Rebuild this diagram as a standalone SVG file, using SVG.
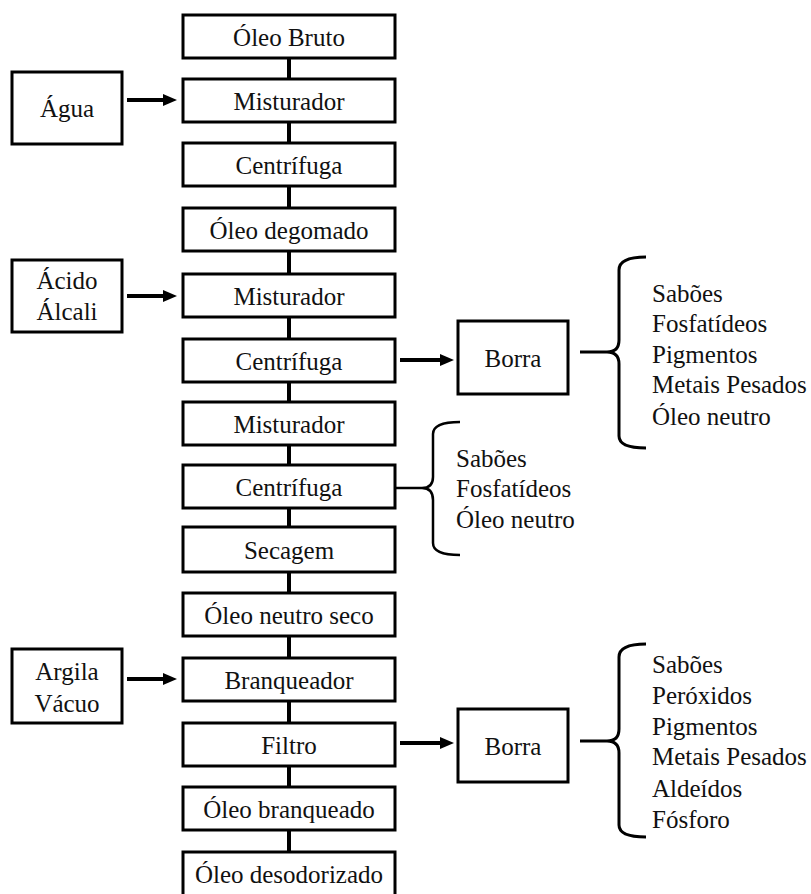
<svg xmlns="http://www.w3.org/2000/svg" width="811" height="894" viewBox="0 0 811 894">
<defs>
<style>
.box{fill:#fff;stroke:#000;stroke-width:3}
.t{font-family:"Liberation Serif","Times New Roman",serif;font-size:25px;fill:#111}
.c{text-anchor:middle}
.conn{stroke:#000;stroke-width:4;fill:none}
.arr{stroke:#000;stroke-width:4;fill:none;marker-end:url(#ah)}
.brace{stroke:#000;stroke-width:3;fill:none}
</style>
<marker id="ah" markerUnits="userSpaceOnUse" markerWidth="14" markerHeight="12" refX="0" refY="6" orient="auto">
<path d="M0,0 L14,6 L0,12 Z" fill="#000"/>
</marker>
</defs>
<rect width="811" height="894" fill="#fff"/>
<g id="connectors">
<path class="conn" d="M289,58V79M289,122V143M289,186V208M289,251V274M289,317V339M289,382V402M289,445V465M289,508V527M289,572V593M289,636V658M289,701V723M289,766V787M289,830V852"/>
<path class="arr" d="M127,100H163"/>
<path class="arr" d="M127,296H163"/>
<path class="arr" d="M127,679H163"/>
<path class="arr" d="M400,360H440"/>
<path class="arr" d="M400,743H440"/>
<path class="brace" d="M580,352H607 M646,257Q619,257 619,270V340Q619,352 607,352Q619,352 619,364V436Q619,448 646,448"/>
<path class="brace" style="stroke-width:2.5" d="M395,488H422 M460,422Q433,422 433,434V477Q433,488 422,488Q433,488 433,500V543Q433,555 460,555"/>
<path class="brace" d="M580,741H607 M646,644Q619,644 619,657V729Q619,741 607,741Q619,741 619,753V825Q619,837 646,837"/>
</g>
<g id="n1"><rect class="box" x="183" y="15" width="212" height="43"/><text class="t c" x="289" y="45.5">Óleo Bruto</text></g>
<g id="n2"><rect class="box" x="183" y="79" width="212" height="43"/><text class="t c" x="289" y="109.5">Misturador</text></g>
<g id="n3"><rect class="box" x="183" y="143" width="212" height="43"/><text class="t c" x="289" y="173.5">Centrífuga</text></g>
<g id="n4"><rect class="box" x="183" y="208" width="212" height="43"/><text class="t c" x="289" y="238.5">Óleo degomado</text></g>
<g id="n5"><rect class="box" x="183" y="274" width="212" height="43"/><text class="t c" x="289" y="304.5">Misturador</text></g>
<g id="n6"><rect class="box" x="183" y="339" width="212" height="43"/><text class="t c" x="289" y="369.5">Centrífuga</text></g>
<g id="n7"><rect class="box" x="183" y="402" width="212" height="43"/><text class="t c" x="289" y="432.5">Misturador</text></g>
<g id="n8"><rect class="box" x="183" y="465" width="212" height="43"/><text class="t c" x="289" y="495.5">Centrífuga</text></g>
<g id="n9"><rect class="box" x="183" y="527" width="212" height="45"/><text class="t c" x="289" y="558.5">Secagem</text></g>
<g id="n10"><rect class="box" x="183" y="593" width="212" height="43"/><text class="t c" x="289" y="623.5">Óleo neutro seco</text></g>
<g id="n11"><rect class="box" x="183" y="658" width="212" height="43"/><text class="t c" x="289" y="688.5">Branqueador</text></g>
<g id="n12"><rect class="box" x="183" y="723" width="212" height="43"/><text class="t c" x="289" y="753.5">Filtro</text></g>
<g id="n13"><rect class="box" x="183" y="787" width="212" height="43"/><text class="t c" x="289" y="817.5">Óleo branqueado</text></g>
<g id="n14"><rect class="box" x="183" y="852" width="212" height="50"/><text class="t c" x="289" y="882.5">Óleo desodorizado</text></g>
<g id="agua"><rect class="box" x="12" y="72" width="110" height="72"/><text class="t c" x="67" y="117">Água</text></g>
<g id="acido"><rect class="box" x="12" y="260" width="110" height="72"/><text class="t c" x="67" y="289">Ácido</text><text class="t c" x="67" y="320">Álcali</text></g>
<g id="argila"><rect class="box" x="12" y="649" width="110" height="74"/><text class="t c" x="67" y="680">Argila</text><text class="t c" x="67" y="712">Vácuo</text></g>
<g id="borra1"><rect class="box" x="458" y="321" width="110" height="73"/><text class="t c" x="513" y="367">Borra</text></g>
<g id="borra2"><rect class="box" x="458" y="709" width="110" height="73"/><text class="t c" x="513" y="755">Borra</text></g>
<g id="list1"><text class="t" x="652" y="302">Sabões</text><text class="t" x="652" y="332">Fosfatídeos</text><text class="t" x="652" y="363">Pigmentos</text><text class="t" x="652" y="393">Metais Pesados</text><text class="t" x="652" y="425">Óleo neutro</text></g>
<g id="list2"><text class="t" x="456" y="467">Sabões</text><text class="t" x="456" y="497">Fosfatídeos</text><text class="t" x="456" y="528">Óleo neutro</text></g>
<g id="list3"><text class="t" x="652" y="673">Sabões</text><text class="t" x="652" y="704">Peróxidos</text><text class="t" x="652" y="735">Pigmentos</text><text class="t" x="652" y="765">Metais Pesados</text><text class="t" x="652" y="797">Aldeídos</text><text class="t" x="652" y="828">Fósforo</text></g>
</svg>
